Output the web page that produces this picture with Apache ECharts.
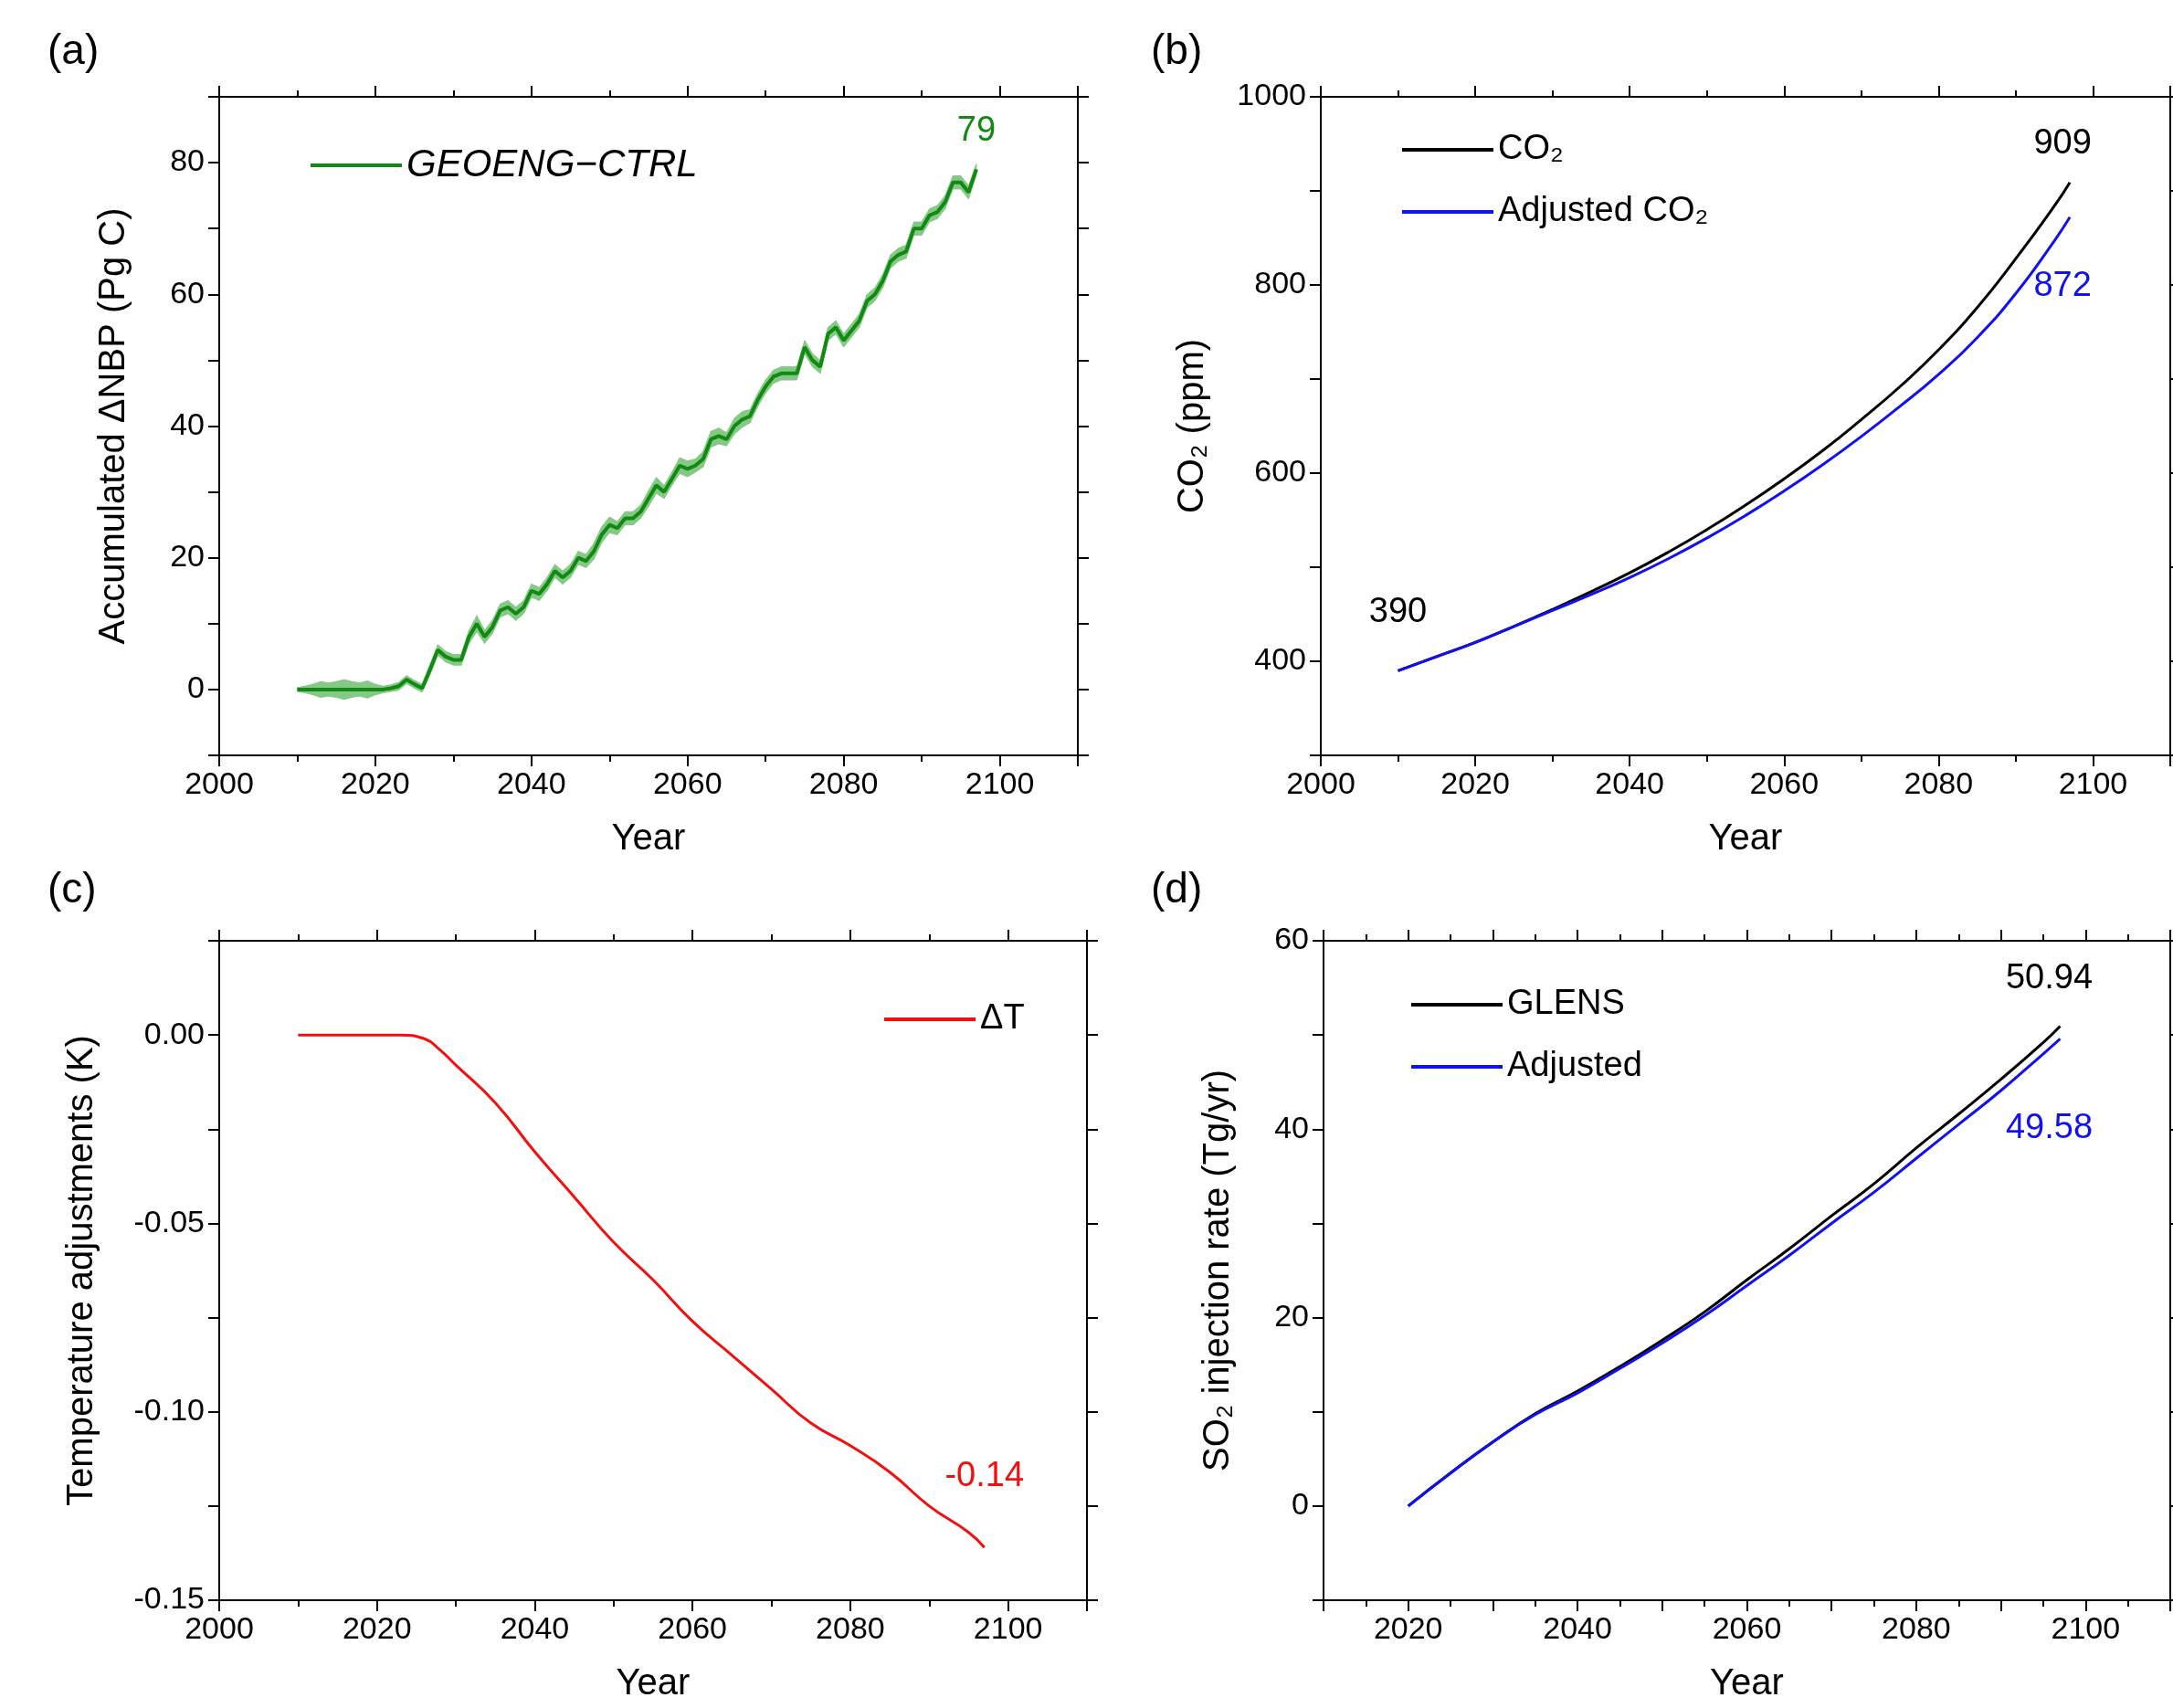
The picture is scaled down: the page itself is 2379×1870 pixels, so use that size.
<!DOCTYPE html>
<html>
<head>
<meta charset="utf-8">
<script src="https://cdn.jsdelivr.net/npm/echarts@6/dist/echarts.min.js"></script>
<style>html,body{margin:0;background:#fff}#main{width:2379px;height:1870px}</style>
</head>
<body>
<div id="main"></div>
<script>
// (a) accumulated dNBP, yearly from 2010
const nbpStart = 2010;
const nbp = [0,0,0,0,0,0,0,0,0,0, 0,0,0.2,0.5,1.5,0.8,0.2,3,6,5,
  4.5,4.5,8,10,8,9.5,12,12.5,11.5,12.5, 15,14.5,16,18,17,18,20,19.5,21,23.5,
  25,24.5,26,26,27,29,31,30,32,34, 33.5,34,35,38,38.5,38,40,41,41.5,44,
  46,47.5,48,48,48,52,50,49,54,55, 53,54.5,56,59,60,62,65,66,66.5,70,
  70,72,72.5,74,77,77,75.5,79];
const nbpSpread = [0.3,0.5,0.8,1.2,1,1.2,1.5,1.2,1,1.3, 0.8,0.5,0.5,0.6,0.6,0.6,0.6,0.8,0.8,0.8,
  0.8,0.8,1,1.2,1,1,1,1,1,1, 1,1,1,1,1,1,1,1,1.2,1.2,
  1.2,1,1,1,1,1.2,1.2,1,1,1.2, 1.2,1,1.2,1.2,1.2,1,1.2,1.2,1,1,
  1,1,1,1,1,1,1,1,1,1, 1,1,1,1,1,1,1,1,1,1,
  1,1,1,1,1,1,1,0.8];

// (b) CO2
const co2Years = [2010,2015,2020,2025,2030,2035,2040,2045,2050,2055,2060,2065,2070,2075,2080,2085,2090,2095,2097];
const co2 = [390,405,420,437,455,474,494,516,540,566,594,624,657,692,731,776,828,884,909];
const co2Adj = [390,405,420,437,454,471,489,509,531,555,581,609,639,671,705,744,791,847,872];

// (c) temperature adjustment
const dtYears = [2010,2015,2020,2023,2026,2028,2030,2035,2040,2045,2050,2055,2060,2065,2070,2075,2080,2085,2090,2095,2097];
const dt = [0,0,0,0,-0.001,-0.004,-0.008,-0.018,-0.031,-0.043,-0.055,-0.065,-0.076,-0.085,-0.094,-0.103,-0.109,-0.116,-0.125,-0.132,-0.136];

// (d) SO2 injection
const so2Years = [2020,2025,2030,2035,2040,2045,2050,2055,2060,2065,2070,2075,2080,2085,2090,2095,2097];
const glens = [0,3.5,6.8,9.8,12.2,14.8,17.6,20.6,24,27.3,30.8,34.2,38,41.6,45.3,49.2,50.94];
const so2Adj = [0,3.5,6.8,9.7,12.0,14.6,17.3,20.2,23.4,26.6,30,33.3,36.9,40.5,44.1,48,49.58];

const FONT = 'Liberation Sans';
const pairs = (xs, ys) => ys.map((v, i) => [xs[i], v]);
const nbpYears = nbp.map((v, i) => nbpStart + i);
const nbpBandData = nbp.map((v, i) => [nbpYears[i], v - nbpSpread[i], v + nbpSpread[i]]);

const grids = [
  {left: 240, top: 106, width: 940, height: 721},
  {left: 1446, top: 106, width: 940, height: 721},
  {left: 240, top: 1030, width: 950, height: 722},
  {left: 1449, top: 1030, width: 940, height: 722}
];

const line = {color: '#000', width: 2};
const tick = {inside: false, length: 12, lineStyle: line};
const minor = {show: true, splitNumber: 2, length: 7, lineStyle: line};
function xAxes(g, min, max, interval, every) {
  return [
    {gridIndex: g, type: 'value', min: min, max: max, interval: interval, position: 'bottom',
     name: 'Year', nameLocation: 'middle', nameGap: 72, nameTextStyle: {fontSize: 40, fontFamily: FONT, color: '#000'},
     axisLine: {onZero: false, lineStyle: line}, axisTick: tick, minorTick: minor,
     axisLabel: {fontSize: 34, fontFamily: FONT, color: '#000', margin: 16,
       formatter: v => (Math.round(v) % every === 0 ? String(v) : '')},
     splitLine: {show: false}},
    {gridIndex: g, type: 'value', min: min, max: max, interval: interval, position: 'top',
     axisLine: {onZero: false, lineStyle: line}, axisTick: tick, minorTick: minor,
     axisLabel: {show: false}, splitLine: {show: false}}
  ];
}
function yAxes(g, min, max, interval, name, fmt, gap) {
  return [
    {gridIndex: g, type: 'value', min: min, max: max, interval: interval, position: 'left',
     name: name, nameLocation: 'middle', nameGap: gap, nameTextStyle: {fontSize: 40, fontFamily: FONT, color: '#000'},
     axisLine: {onZero: false, lineStyle: line}, axisTick: tick,
     axisLabel: {fontSize: 34, fontFamily: FONT, color: '#000', margin: 16, formatter: fmt},
     splitLine: {show: false}},
    {gridIndex: g, type: 'value', min: min, max: max, interval: interval, position: 'right',
     axisLine: {onZero: false, lineStyle: line}, axisTick: tick,
     axisLabel: {show: false}, splitLine: {show: false}}
  ];
}
const every = (n, dec) => v => {
  const r = Math.round(v * 1000) / 1000;
  return (Math.abs(Math.round(r / n) * n - r) < 1e-6) ? (dec ? r.toFixed(dec) : String(r)) : '';
};

const xAxis = [].concat(
  xAxes(0, 2000, 2110, 20, 20), xAxes(1, 2000, 2110, 20, 20),
  xAxes(2, 2000, 2110, 20, 20), xAxes(3, 2010, 2110, 10, 20));
const yAxis = [].concat(
  yAxes(0, -10, 90, 10, 'Accumulated ΔNBP (Pg C)', every(20), 95),
  yAxes(1, 300, 1000, 100, 'CO₂ (ppm)', every(200), 120),
  yAxes(2, -0.15, 0.025, 0.025, 'Temperature adjustments (K)', every(0.05, 2), 130),
  yAxes(3, -10, 60, 10, 'SO₂ injection rate (Tg/yr)', every(20), 95));

const lbl = (text, color, offset) => ({show: true, formatter: text, color: color, fontSize: 38, fontFamily: FONT, offset: offset});
const endLabel = (coord, text, color, offset) => ({
  symbol: 'circle', symbolSize: 0, data: [{coord: coord, label: lbl(text, color, offset)}]
});
const legendBase = {orient: 'vertical', icon: 'rect', itemWidth: 100, itemHeight: 4, itemGap: 30,
  textStyle: {fontSize: 38, fontFamily: FONT, color: '#000'}};

const option = {
  animation: false,
  backgroundColor: '#fff',
  grid: grids,
  xAxis: xAxis,
  yAxis: yAxis,
  legend: [
    Object.assign({}, legendBase, {left: 335, top: 155, data: ['GEOENG−CTRL'],
      textStyle: {fontSize: 42, fontFamily: FONT, color: '#000', fontStyle: 'italic'}}),
    Object.assign({}, legendBase, {left: 1530, top: 140, data: ['CO₂', 'Adjusted CO₂']}),
    Object.assign({}, legendBase, {left: 963, top: 1092, data: ['ΔT']}),
    Object.assign({}, legendBase, {left: 1540, top: 1076, data: ['GLENS', 'Adjusted']})
  ],
  graphic: [
    {type: 'text', left: 52, top: 34, style: {text: '(a)', fontSize: 46, fontFamily: FONT, fill: '#000'}},
    {type: 'text', left: 1260, top: 34, style: {text: '(b)', fontSize: 46, fontFamily: FONT, fill: '#000'}},
    {type: 'text', left: 52, top: 952, style: {text: '(c)', fontSize: 46, fontFamily: FONT, fill: '#000'}},
    {type: 'text', left: 1260, top: 952, style: {text: '(d)', fontSize: 46, fontFamily: FONT, fill: '#000'}}
  ],
  series: [
    {type: 'custom', xAxisIndex: 0, yAxisIndex: 0, silent: true, data: nbpBandData,
     renderItem: function (params, api) {
       const i = params.dataIndex;
       if (i >= nbpBandData.length - 1) return null;
       const a = nbpBandData[i], b = nbpBandData[i + 1];
       return {type: 'polygon', shape: {points: [
         api.coord([a[0], a[1]]), api.coord([b[0], b[1]]),
         api.coord([b[0], b[2]]), api.coord([a[0], a[2]])]},
         style: {fill: '#86c886', stroke: '#86c886', lineWidth: 1}};
     }},
    {type: 'line', name: 'GEOENG−CTRL', xAxisIndex: 0, yAxisIndex: 0, symbol: 'none', color: '#108a10',
     lineStyle: {width: 4}, data: pairs(nbpYears, nbp), z: 3,
     markPoint: endLabel([2097, 79], '79', '#108a10', [0, -42])},
    {type: 'line', name: 'CO₂', xAxisIndex: 2, yAxisIndex: 2, symbol: 'none', color: '#000', smooth: true,
     lineStyle: {width: 3}, data: pairs(co2Years, co2), z: 3,
     markPoint: {symbol: 'circle', symbolSize: 0, data: [
       {coord: [2097, 909], label: lbl('909', '#000', [-8, -42])},
       {coord: [2010, 390], label: lbl('390', '#000', [0, -64])}]}},
    {type: 'line', name: 'Adjusted CO₂', xAxisIndex: 2, yAxisIndex: 2, symbol: 'none', color: '#1010f0', smooth: true,
     lineStyle: {width: 3}, data: pairs(co2Years, co2Adj),
     markPoint: endLabel([2097, 872], '872', '#1010f0', [-8, 76])},
    {type: 'line', name: 'ΔT', xAxisIndex: 4, yAxisIndex: 4, symbol: 'none', color: '#f01010', smooth: true,
     lineStyle: {width: 3}, data: pairs(dtYears, dt),
     markPoint: endLabel([2097, -0.136], '-0.14', '#f01010', [0, -78])},
    {type: 'line', name: 'GLENS', xAxisIndex: 6, yAxisIndex: 6, symbol: 'none', color: '#000', smooth: true,
     lineStyle: {width: 3}, data: pairs(so2Years, glens), z: 3,
     markPoint: endLabel([2097, 50.94], '50.94', '#000', [-12, -52])},
    {type: 'line', name: 'Adjusted', xAxisIndex: 6, yAxisIndex: 6, symbol: 'none', color: '#1010f0', smooth: true,
     lineStyle: {width: 3}, data: pairs(so2Years, so2Adj),
     markPoint: endLabel([2097, 49.58], '49.58', '#1010f0', [-12, 98])}
  ]
};
echarts.init(document.getElementById('main')).setOption(option);
</script>
</body>
</html>
